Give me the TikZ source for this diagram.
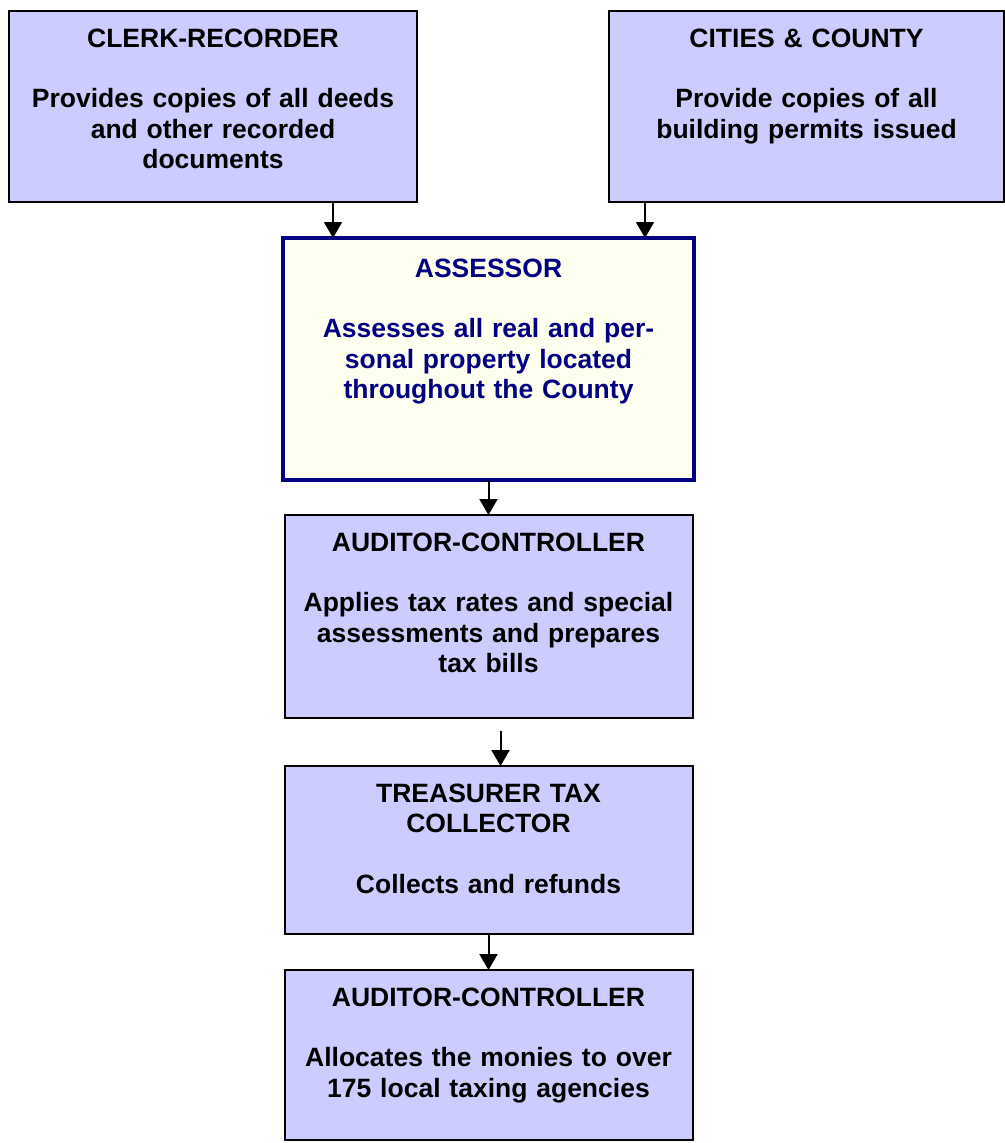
\documentclass[tikz,border=0pt]{standalone}
\usepackage{fontspec}
\setmainfont{Liberation Sans}
\usetikzlibrary{positioning,arrows.meta}
\definecolor{boxblue}{HTML}{CCCCFF}
\definecolor{paleyellow}{HTML}{FFFFF0}
\definecolor{navyline}{HTML}{000080}

\begin{document}
\begin{tikzpicture}[x=1bp,y=-1bp,
  font=\fontsize{26.6}{30.6}\selectfont\bfseries,
  org node/.style 2 args={draw,line width=2bp,fill=boxblue,align=center,
    inner sep=0pt,outer sep=0pt,text width=#1,text height=36bp,text depth=#2},
  head node/.style={org node={411bp}{203bp},draw=navyline,line width=4bp,
    fill=paleyellow,text=navyline,text height=39bp},
  flow/.style={line width=2bp,-{Triangle[width=18bp,length=16bp]}}]
  \useasboundingbox (0,0) rectangle (1005,1143);
  \node[org node={408bp}{155bp},anchor=north west] (clerk) at (9,11)
    {CLERK-RECORDER\\[30.6pt]Provides copies of all deeds\\and other recorded\\documents};
  \node[org node={395bp}{155bp},anchor=north west] (cities) at (609,11)
    {CITIES \& COUNTY\\[30.6pt]Provide copies of all\\building permits issued};
  \node[head node,anchor=north west] (assessor) at (283,238)
    {ASSESSOR\\[30.6pt]Assesses all real and per-\\sonal property located\\throughout the County};
  \node[org node={408bp}{167bp}] (audit) [below=35bp of assessor]
    {AUDITOR-CONTROLLER\\[30.6pt]Applies tax rates and special\\assessments and prepares\\tax bills};
  \node[org node={408bp}{132bp}] (treasurer) [below=48bp of audit]
    {TREASURER TAX\\COLLECTOR\\[30.6pt]Collects and refunds};
  \node[org node={408bp}{134bp}] (allocate) [below=36bp of treasurer]
    {AUDITOR-CONTROLLER\\[30.6pt]Allocates the monies to over\\175 local taxing agencies};
  % flow of the roll
  \draw[flow] ([xshift=120bp]clerk.south) -- ([xshift=120bp]clerk.south |- assessor.north);
  \draw[flow] ([xshift=-161.5bp]cities.south) -- ([xshift=-161.5bp]cities.south |- assessor.north);
  \draw[flow] (assessor.south) -- (audit.north);
  \draw[flow] ([xshift=12bp,yshift=-13bp]audit.south) -- ([xshift=12bp]treasurer.north);
  \draw[flow] (treasurer.south) -- (allocate.north);
\end{tikzpicture}
\end{document}
